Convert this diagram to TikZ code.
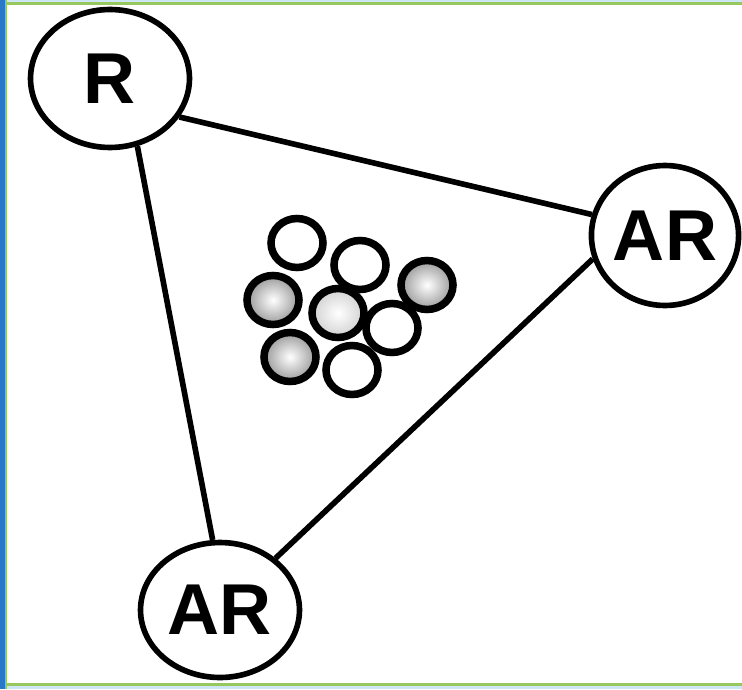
\documentclass[tikz,border=0pt]{standalone}
\usepackage{fontspec}
\setmainfont{Liberation Sans}
\usetikzlibrary{shapes.geometric}
\definecolor{edgeblue}{RGB}{40,120,200}
\definecolor{edgegreen}{RGB}{150,200,95}
\definecolor{edgelight}{RGB}{205,230,245}
\tikzset{
  bignode/.style={ellipse, draw=black, line width=3.2pt, fill=white, inner sep=0pt,
    font=\fontsize{41}{41}\selectfont\bfseries},
  link/.style={line width=3.2pt, draw=black},
  ball/.style={draw=black, line width=4.3pt, fill=white},
  shadedball/.style={draw=black, line width=4.3pt, inner color=white, outer color=black!40},
  lightball/.style={draw=black, line width=4.3pt, inner color=white, outer color=black!18}
}
\begin{document}
\begin{tikzpicture}[x=0.02cm, y=-0.02cm]
  \useasboundingbox (0,0) rectangle (742,689);
  \fill[white] (0,0) rectangle (742,689);
  % frame stripes
  \fill[edgegreen] (0,2) rectangle (742,5);
  \fill[edgelight] (0,0) rectangle (742,2);
  \fill[edgegreen] (0,683) rectangle (742,686);
  \fill[edgelight] (0,686) rectangle (742,689);
  \fill[edgegreen] (4,0) rectangle (7,689);
  \fill[edgeblue] (0,0) rectangle (4.5,689);
  % main nodes
  \node[bignode, minimum width=3.18cm, minimum height=2.76cm] (R) at (110,78.5) {R};
  \node[bignode, minimum width=2.82cm, minimum height=2.80cm] (AR1) at (665,235.5) {AR};
  \node[bignode, minimum width=3.18cm, minimum height=2.70cm] (AR2) at (220,610) {AR};
  % connectors
  \draw[link] (R.-29.4) -- (AR1.164.3);
  \draw[link] (R.-68.5) -- (AR2.96.7);
  \draw[link] (AR1.198.8) -- (AR2.43.4);
  % cluster of small circles
  \path[ball] (297,243) ellipse [x radius=0.52cm, y radius=0.49cm];
  \path[ball] (360,265) ellipse [x radius=0.52cm, y radius=0.49cm];
  \shadedraw[shadedball] (427,285) ellipse [x radius=0.52cm, y radius=0.49cm];
  \shadedraw[shadedball] (273,300) ellipse [x radius=0.52cm, y radius=0.49cm];
  \shadedraw[lightball] (338,313) ellipse [x radius=0.52cm, y radius=0.49cm];
  \path[ball] (392,328) ellipse [x radius=0.52cm, y radius=0.49cm];
  \shadedraw[shadedball] (290,357) ellipse [x radius=0.52cm, y radius=0.49cm];
  \path[ball] (352,370) ellipse [x radius=0.52cm, y radius=0.49cm];
\end{tikzpicture}
\end{document}
